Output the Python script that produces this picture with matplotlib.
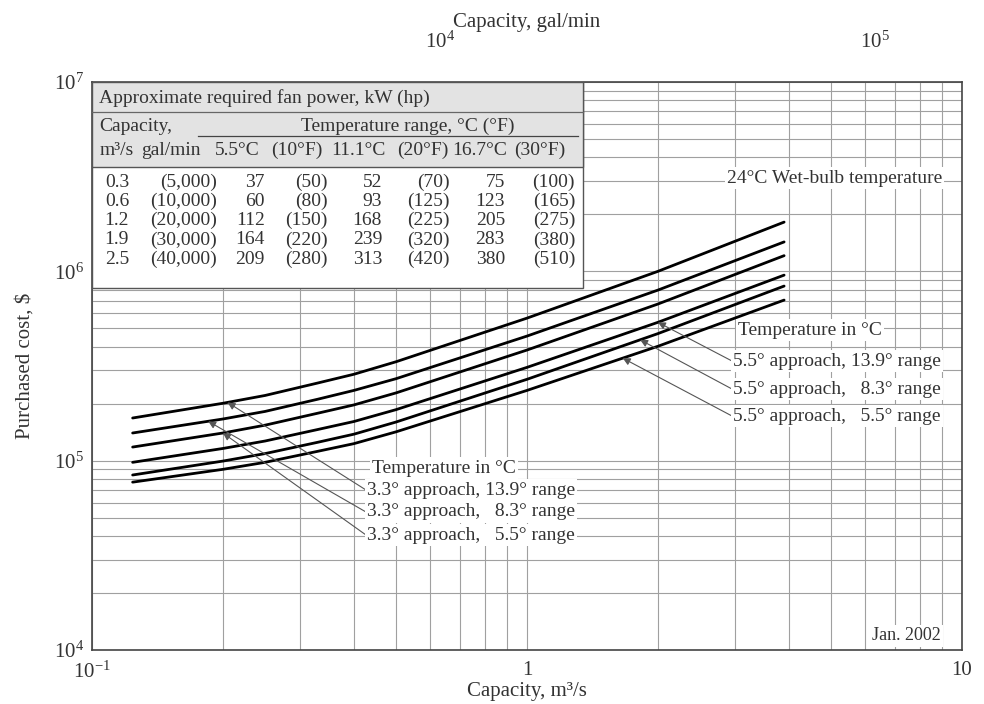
import numpy as np
import matplotlib.pyplot as plt
from matplotlib.patches import Rectangle
from matplotlib.ticker import FixedLocator, NullFormatter, LogLocator

plt.rcParams['font.family'] = ['Liberation Serif', 'DejaVu Serif']
plt.rcParams['mathtext.fontset'] = 'custom'
plt.rcParams['mathtext.rm'] = 'Liberation Serif'

# curves (capacity m3/s -> purchased cost $)
capacity = [0.124, 0.2, 0.25, 0.33, 0.4, 0.5, 1.0, 2.0, 3.9]
cost_1 = [1.68e5, 2.01e5, 2.21e5, 2.57e5, 2.86e5, 3.33e5, 5.66e5, 1.00e6, 1.82e6]
cost_2 = [1.40e5, 1.66e5, 1.82e5, 2.11e5, 2.35e5, 2.71e5, 4.55e5, 7.96e5, 1.43e6]
cost_3 = [1.18e5, 1.40e5, 1.54e5, 1.78e5, 1.97e5, 2.28e5, 3.84e5, 6.72e5, 1.21e6]
cost_4 = [9.8e4, 1.16e5, 1.27e5, 1.46e5, 1.61e5, 1.86e5, 3.11e5, 5.38e5, 9.55e5]
cost_5 = [8.4e4, 9.95e4, 1.09e5, 1.25e5, 1.38e5, 1.60e5, 2.69e5, 4.69e5, 8.36e5]
cost_6 = [7.7e4, 9.0e4, 9.8e4, 1.12e5, 1.23e5, 1.42e5, 2.35e5, 4.02e5, 7.05e5]
curves = [cost_1, cost_2, cost_3, cost_4, cost_5, cost_6]

# fan power table
tab_m3s = ['0.3', '0.6', '1.2', '1.9', '2.5']
tab_gpm = ['(5,000)', '(10,000)', '(20,000)', '(30,000)', '(40,000)']
kw_55 = ['37', '60', '112', '164', '209']
hp_55 = ['(50)', '(80)', '(150)', '(220)', '(280)']
kw_111 = ['52', '93', '168', '239', '313']
hp_111 = ['(70)', '(125)', '(225)', '(320)', '(420)']
kw_167 = ['75', '123', '205', '283', '380']
hp_167 = ['(100)', '(165)', '(275)', '(380)', '(510)']
tab_heads = ['m³/s', 'gal/min', '5.5°C', '(10°F)', '11.1°C', '(20°F)', '16.7°C', '(30°F)']

labels_33 = ['3.3° approach, 13.9° range', '3.3° approach,   8.3° range', '3.3° approach,   5.5° range']
labels_55 = ['5.5° approach, 13.9° range', '5.5° approach,   8.3° range', '5.5° approach,   5.5° range']
GPM_PER_M3S = 15850.0

fig = plt.figure(figsize=(9.84, 7.04), dpi=100)
ax = fig.add_axes([92 / 984, 1 - 650 / 704, 870 / 984, 568 / 704])


def P(px, py):
    # reference pixel -> axes fraction
    return ((px - 92) / 870, (650 - py) / 568)


def on_curve(x, ys):
    return 10 ** np.interp(np.log10(x), np.log10(capacity), np.log10(ys))


for ys in curves:
    ax.plot(capacity, ys, color='black', lw=2.0, zorder=3, solid_capstyle='round',
            solid_joinstyle='round')

ax.set_xscale('log')
ax.set_yscale('log')
ax.set_xlim(0.1, 10)
ax.set_ylim(1e4, 1e7)
ax.xaxis.set_minor_locator(LogLocator(base=10, subs=np.arange(2, 10)))
ax.yaxis.set_minor_locator(LogLocator(base=10, subs=np.arange(2, 10)))
ax.xaxis.set_minor_formatter(NullFormatter())
ax.yaxis.set_minor_formatter(NullFormatter())
ax.grid(True, which='both', color='#a0a0a0', lw=0.8)
ax.set_axisbelow(True)
ax.set_xticks([0.1, 1, 10])
ax.set_xticklabels([r'$\mathregular{10^{-1}}$', '1', '10'])
ax.set_yticks([1e4, 1e5, 1e6, 1e7])
ax.set_yticklabels([r'$\mathregular{10^{%d}}$' % k for k in range(4, 8)])
ax.tick_params(which='both', length=0, labelsize=15, colors='#333333')
ax.tick_params(axis='x', pad=8)
ax.tick_params(axis='y', pad=6)
for s in ax.spines.values():
    s.set_color('#444444')
    s.set_linewidth(1.2)
ax.set_xlabel('Capacity, m³/s', fontsize=15, color='#333333', labelpad=0)
ax.set_ylabel('Purchased cost, $', fontsize=15, color='#333333', labelpad=14)

sec = ax.secondary_xaxis('top', functions=(lambda x: x * GPM_PER_M3S, lambda g: g / GPM_PER_M3S))
sec.set_xticks([1e4, 1e5])
sec.set_xticklabels([r'$\mathregular{10^{4}}$', r'$\mathregular{10^{5}}$'])
sec.xaxis.set_minor_locator(FixedLocator([]))
sec.tick_params(length=0, labelsize=15, colors='#333333', pad=21)
sec.spines['top'].set_visible(False)
sec.set_xlabel('Capacity, gal/min', fontsize=15, color='#333333', labelpad=3)

# table
tr = ax.transAxes
x0, y0 = P(92, 288)
x1, y1 = P(583, 82)
ax.add_patch(Rectangle((x0, y0), x1 - x0, y1 - y0, transform=tr, facecolor='white',
                       edgecolor='#555555', lw=1.0, zorder=4))
hx, hy = P(92, 167)
ax.add_patch(Rectangle((hx, hy), x1 - hx, y1 - hy, transform=tr, facecolor='#e3e3e3',
                       edgecolor='#555555', lw=1.0, zorder=4))
a, b = P(92, 112)
c, d = P(583, 112)
ax.plot([a, c], [b, d], transform=tr, color='#666666', lw=0.9, zorder=5)
a, b = P(198, 136)
c, d = P(578, 136)
ax.plot([a, c], [b, d], transform=tr, color='#444444', lw=0.9, zorder=5)

tkw = dict(transform=tr, fontsize=14, color='#333333', va='center', zorder=6)
ax.text(*P(99, 98), 'Approximate required fan power, kW (hp)', ha='left', **tkw)
ax.text(*P(99, 126), 'Capacity,', ha='left', **tkw)
ax.text(*P(408, 126), 'Temperature range, °C (°F)', ha='center', **tkw)
head_x = [100, 141, 215, 271, 331, 397, 452, 514]
for hxp, t in zip(head_x, tab_heads):
    ax.text(*P(hxp, 150), t, ha='left', **tkw)

cols = [tab_m3s, tab_gpm, kw_55, hp_55, kw_111, hp_111, kw_167, hp_167]
col_right = [129, 217, 265, 328, 382, 450, 505, 575]
for i in range(len(tab_m3s)):
    py = 182 + 19.3 * i
    for xr, col in zip(col_right, cols):
        ax.text(*P(xr, py), col[i], ha='right', **tkw)

# annotations
bb = dict(facecolor='white', edgecolor='none', pad=1.5)
akw = dict(transform=tr, fontsize=14, color='#333333', va='center', ha='left', bbox=bb, zorder=6)
ax.text(*P(942, 178), '24°C Wet-bulb temperature', fontsize=14, color='#333333', va='center',
        ha='right', bbox=bb, transform=tr, zorder=6)
ax.text(*P(941, 636), 'Jan. 2002', fontsize=13, color='#333333', va='center', ha='right',
        bbox=bb, transform=tr, zorder=6)

arrow = dict(arrowstyle='-|>', color='#555555', lw=0.8, mutation_scale=11, shrinkA=0, shrinkB=0)

ax.text(*P(372, 468), 'Temperature in °C', **akw)
low_y = [490, 512, 535]
low_tip = [(0.205, cost_1), (0.185, cost_2), (0.2, cost_3)]
for lab, py, (xt, ys) in zip(labels_33, low_y, low_tip):
    ax.text(*P(367, py), lab, **akw)
    ax.annotate('', xy=(xt, on_curve(xt, ys)), xycoords='data',
                xytext=P(366, py), textcoords='axes fraction', arrowprops=arrow, zorder=5)

ax.text(*P(738, 330), 'Temperature in °C', **akw)
up_y = [361, 389, 416]
up_tip = [(2.0, cost_4), (1.82, cost_5), (1.66, cost_6)]
for lab, py, (xt, ys) in zip(labels_55, up_y, up_tip):
    ax.text(*P(733, py), lab, **akw)
    ax.annotate('', xy=(xt, on_curve(xt, ys)), xycoords='data',
                xytext=P(732, py), textcoords='axes fraction', arrowprops=arrow, zorder=5)

fig.savefig('out.png', dpi=100)
